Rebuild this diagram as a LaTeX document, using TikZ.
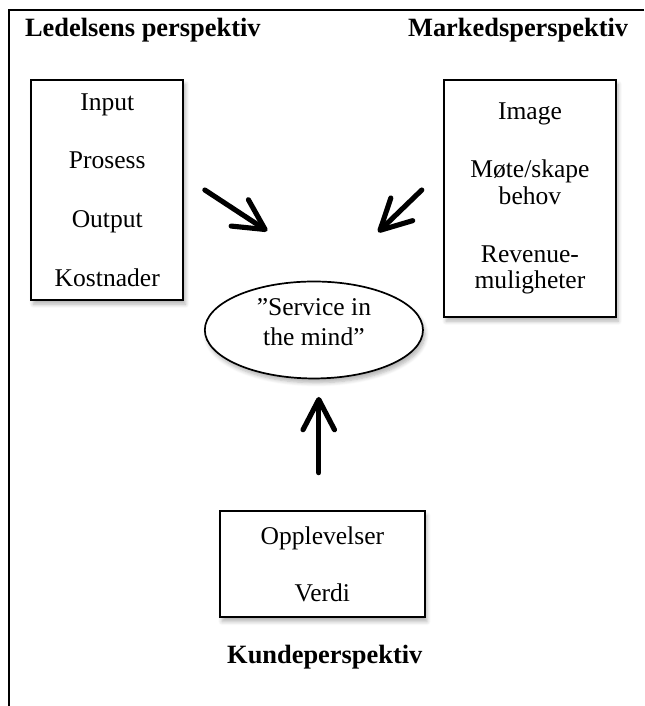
\documentclass[tikz,border=0pt]{standalone}
\usepackage{fontspec}
\setmainfont{Liberation Serif}
\usetikzlibrary{arrows.meta, shapes.geometric, shadows.blur}

\tikzset{
  boks/.style={draw, line width=0.8pt, fill=white, align=center, inner sep=0pt,
    blur shadow={shadow xshift=1pt, shadow yshift=-2pt, shadow blur steps=6, shadow opacity=30}},
  tittel/.style={font=\fontsize{12.4}{12.6}\selectfont\bfseries},
  pil/.style={->, line width=2.4pt, line cap=round, line join=round}
}

\begin{document}
\begin{tikzpicture}[font=\fontsize{12}{12.3}\selectfont, >={Straight Barb[length=0.5cm, width=0.52cm, round]}]
    \useasboundingbox (0,0) rectangle (10.63,-11.65);
    \draw[line width=1pt] (10.63,-0.17) -- (0.15,-0.17) -- (0.15,-11.65);

    \node[tittel, anchor=west] (ledelse) at (0.29,-0.50) {Ledelsens perspektiv};
    \node[tittel, anchor=east] (marked) at (10.49,-0.50) {Markedsperspektiv};
    \node[tittel] (kunde) at (5.36,-10.84) {Kundeperspektiv};

    \node[boks, minimum width=2.51cm, minimum height=3.63cm] (ledelseboks) at (1.77,-3.135)
        {Input\\[15.2pt] Prosess\\[15.2pt] Output\\[15.2pt] Kostnader};
    \node[boks, minimum width=2.84cm, minimum height=3.91cm] (markedboks) at (8.745,-3.275)
        {Image\\[15pt] Møte/skape\\ behov\\[15pt] Revenue-\\ muligheter};
    \node[boks, minimum width=3.38cm, minimum height=1.75cm] (kundeboks) at (5.32,-9.31)
        {Opplevelser\\[14.5pt] Verdi};
    \node[boks, ellipse, minimum width=3.60cm, minimum height=1.60cm,
        label={[align=center, yshift=0.13cm]center:”Service in\\[1.7pt] the mind”}] (tjeneste) at (5.18,-5.445) {};

    % pilene
    \coordinate (pilA) at (3.38,-3.135);
    \coordinate (pilB) at (6.96,-3.135);
    \coordinate (pilC) at (5.26,-7.80);
    \coordinate (spissA) at (4.41,-3.81);
    \coordinate (spissB) at (6.24,-3.83);
    \coordinate (spissC) at (5.26,-6.55);

    \draw[pil] (pilA) -- (spissA);
    \draw[pil] (pilB) -- (spissB);
    \draw[pil] (pilC) -- (spissC);
\end{tikzpicture}
\end{document}
